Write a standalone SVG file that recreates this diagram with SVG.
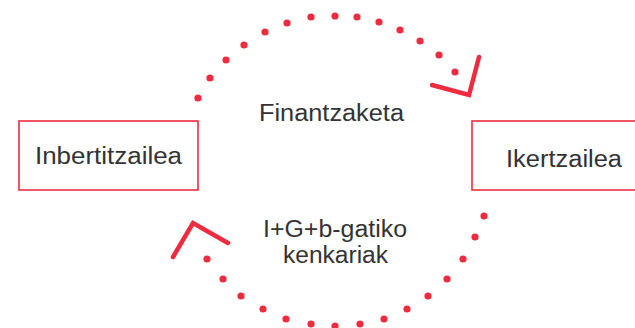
<svg xmlns="http://www.w3.org/2000/svg" width="635" height="328" viewBox="0 0 635 328">
<style>
.box{fill:#fff;stroke:#ef2b3f;stroke-width:1.6}
.lbl{font-family:"Liberation Sans",Arial,sans-serif;font-size:23px;fill:#333;text-anchor:middle}
.dot{fill:#ef2b3f}
.head{fill:none;stroke:#ef2b3f;stroke-width:4.5;stroke-linecap:round;stroke-linejoin:miter}
</style>
<rect width="635" height="328" fill="#fff"/>
<g id="connectors">
<g id="top-arc">
<circle class="dot" cx="198" cy="98" r="3.6"/>
<circle class="dot" cx="210" cy="78" r="3.6"/>
<circle class="dot" cx="226" cy="60" r="3.6"/>
<circle class="dot" cx="244" cy="45" r="3.6"/>
<circle class="dot" cx="265" cy="32" r="3.6"/>
<circle class="dot" cx="287" cy="23" r="3.6"/>
<circle class="dot" cx="311" cy="17" r="3.6"/>
<circle class="dot" cx="335" cy="16" r="3.6"/>
<circle class="dot" cx="357" cy="17" r="3.6"/>
<circle class="dot" cx="379" cy="22" r="3.6"/>
<circle class="dot" cx="400" cy="30" r="3.6"/>
<circle class="dot" cx="420" cy="41" r="3.6"/>
<circle class="dot" cx="439" cy="55" r="3.6"/>
<circle class="dot" cx="455" cy="72" r="3.6"/>
<polyline class="head" points="432,85 469,95 479,57"/>
</g>
<g id="bottom-arc">
<circle class="dot" cx="484" cy="216" r="3.6"/>
<circle class="dot" cx="475" cy="237" r="3.6"/>
<circle class="dot" cx="463" cy="259" r="3.6"/>
<circle class="dot" cx="447" cy="279" r="3.6"/>
<circle class="dot" cx="428" cy="296" r="3.6"/>
<circle class="dot" cx="407" cy="309" r="3.6"/>
<circle class="dot" cx="384" cy="319" r="3.6"/>
<circle class="dot" cx="360" cy="324" r="3.6"/>
<circle class="dot" cx="335" cy="326" r="3.6"/>
<circle class="dot" cx="311" cy="324" r="3.6"/>
<circle class="dot" cx="286" cy="319" r="3.6"/>
<circle class="dot" cx="263" cy="309" r="3.6"/>
<circle class="dot" cx="241" cy="296" r="3.6"/>
<circle class="dot" cx="223" cy="279" r="3.6"/>
<circle class="dot" cx="207" cy="259" r="3.6"/>
<polyline class="head" points="228,243 193,223 173,257"/>
</g>
<text class="lbl" x="331.5" y="121" textLength="145" lengthAdjust="spacingAndGlyphs">Finantzaketa</text>
<text class="lbl" x="335" y="237" textLength="144" lengthAdjust="spacingAndGlyphs">I+G+b-gatiko</text>
<text class="lbl" x="335.5" y="263" textLength="105" lengthAdjust="spacingAndGlyphs">kenkariak</text>
</g>
<g id="node-inbertitzailea">
<rect class="box" x="19" y="121" width="179" height="69"/>
<text class="lbl" x="108.5" y="164" textLength="147" lengthAdjust="spacingAndGlyphs">Inbertitzailea</text>
</g>
<g id="node-ikertzailea">
<rect class="box" x="472" y="121" width="170" height="69"/>
<text class="lbl" x="564" y="167" textLength="116" lengthAdjust="spacingAndGlyphs">Ikertzailea</text>
</g>
</svg>
